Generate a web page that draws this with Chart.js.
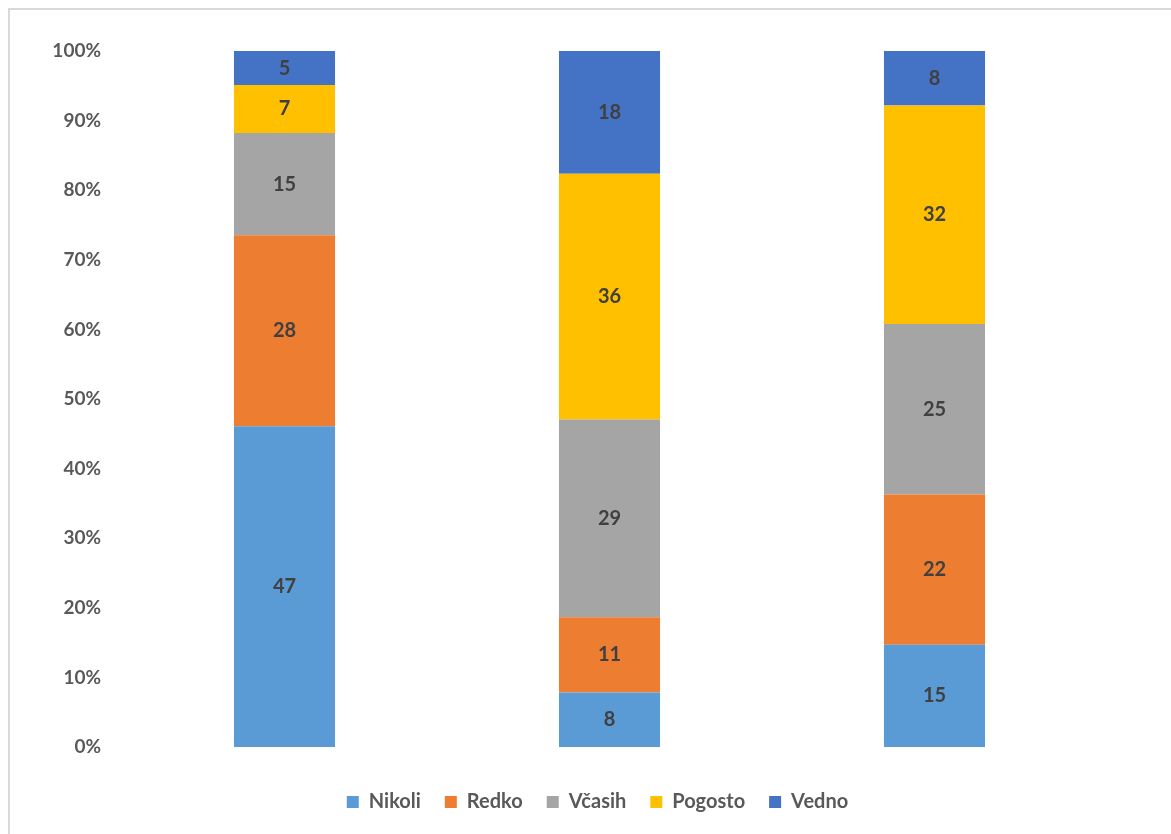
<!DOCTYPE html>
<html>
<head>
<meta charset="utf-8">
<script src="https://cdn.jsdelivr.net/npm/chart.js@4.4.0/dist/chart.umd.min.js"></script>
<style>
  html, body { margin: 0; padding: 0; background: #fff; }
  #wrap { position: relative; width: 1171px; height: 834px; overflow: hidden; }
  #frame { position: absolute; left: 8px; top: 8px; width: 1200px; height: 900px; border: 2px solid #d9d9d9; box-sizing: border-box; }
  canvas { position: absolute; left: 0; top: 0; }
</style>
</head>
<body>
<div id="wrap">
  <div id="frame"></div>
  <canvas id="chart" width="1171" height="834"></canvas>
</div>
<script>
'use strict';

var categories = ['', '', ''];
var seriesNames = ['Nikoli', 'Redko', 'Včasih', 'Pogosto', 'Vedno'];
var seriesColors = ['#5B9BD5', '#ED7D31', '#A5A5A5', '#FFC000', '#4472C4'];
var nikoli  = [47, 8, 15];
var redko   = [28, 11, 22];
var vcasih  = [15, 29, 25];
var pogosto = [7, 36, 32];
var vedno   = [5, 18, 8];
var yTicks = [0, 10, 20, 30, 40, 50, 60, 70, 80, 90, 100];

var counts = [nikoli, redko, vcasih, pogosto, vedno];
var totals = categories.map(function (c, i) {
  return counts.reduce(function (s, arr) { return s + arr[i]; }, 0);
});

var datasets = counts.map(function (arr, k) {
  return {
    label: seriesNames[k],
    counts: arr,
    data: arr.map(function (v, i) { return v / totals[i] * 100; }),
    backgroundColor: seriesColors[k],
    borderWidth: 0,
    barPercentage: 0.311,
    categoryPercentage: 1
  };
});

var fontFamily = 'Lato, "Open Sans", sans-serif';

// draw the raw counts in the middle of every segment
var barValues = {
  id: 'barValues',
  afterDatasetsDraw: function (chart) {
    var ctx = chart.ctx;
    ctx.save();
    ctx.font = 'bold 20px ' + fontFamily;
    ctx.fillStyle = '#404040';
    ctx.textAlign = 'center';
    ctx.textBaseline = 'middle';
    chart.data.datasets.forEach(function (ds, k) {
      chart.getDatasetMeta(k).data.forEach(function (bar, i) {
        var mid = (bar.y + bar.base) / 2;
        ctx.fillText(String(ds.counts[i]), bar.x, mid);
      });
    });
    ctx.restore();
  }
};

new Chart(document.getElementById('chart'), {
  type: 'bar',
  data: { labels: categories, datasets: datasets },
  options: {
    responsive: false,
    animation: false,
    layout: { padding: { top: 51, right: 0, left: 24, bottom: 12 } },
    plugins: {
      tooltip: { enabled: false },
      legend: {
        position: 'bottom',
        labels: {
          boxWidth: 12,
          boxHeight: 12,
          padding: 24,
          color: '#595959',
          font: { family: fontFamily, size: 20, weight: 'bold' }
        }
      }
    },
    scales: {
      x: {
        stacked: true,
        grid: { display: false },
        border: { display: false },
        ticks: { display: false },
        afterFit: function (axis) { axis.height = 21; }
      },
      y: {
        stacked: true,
        min: 0,
        max: 100,
        afterBuildTicks: function (axis) {
          axis.ticks = yTicks.map(function (v) { return { value: v }; });
        },
        afterFit: function (axis) { axis.width = 98; },
        grid: { display: false },
        border: { display: false },
        ticks: {
          padding: 13,
          color: '#595959',
          font: { family: fontFamily, size: 19, weight: 'bold' },
          callback: function (v) { return v + '%'; }
        }
      },
      // empty axis on the right keeps the plot narrower than the legend row
      yRight: {
        position: 'right',
        display: true,
        grid: { display: false },
        border: { display: false },
        ticks: { display: false },
        afterFit: function (axis) { axis.width = 74; }
      }
    }
  },
  plugins: [barValues]
});
</script>
</body>
</html>
